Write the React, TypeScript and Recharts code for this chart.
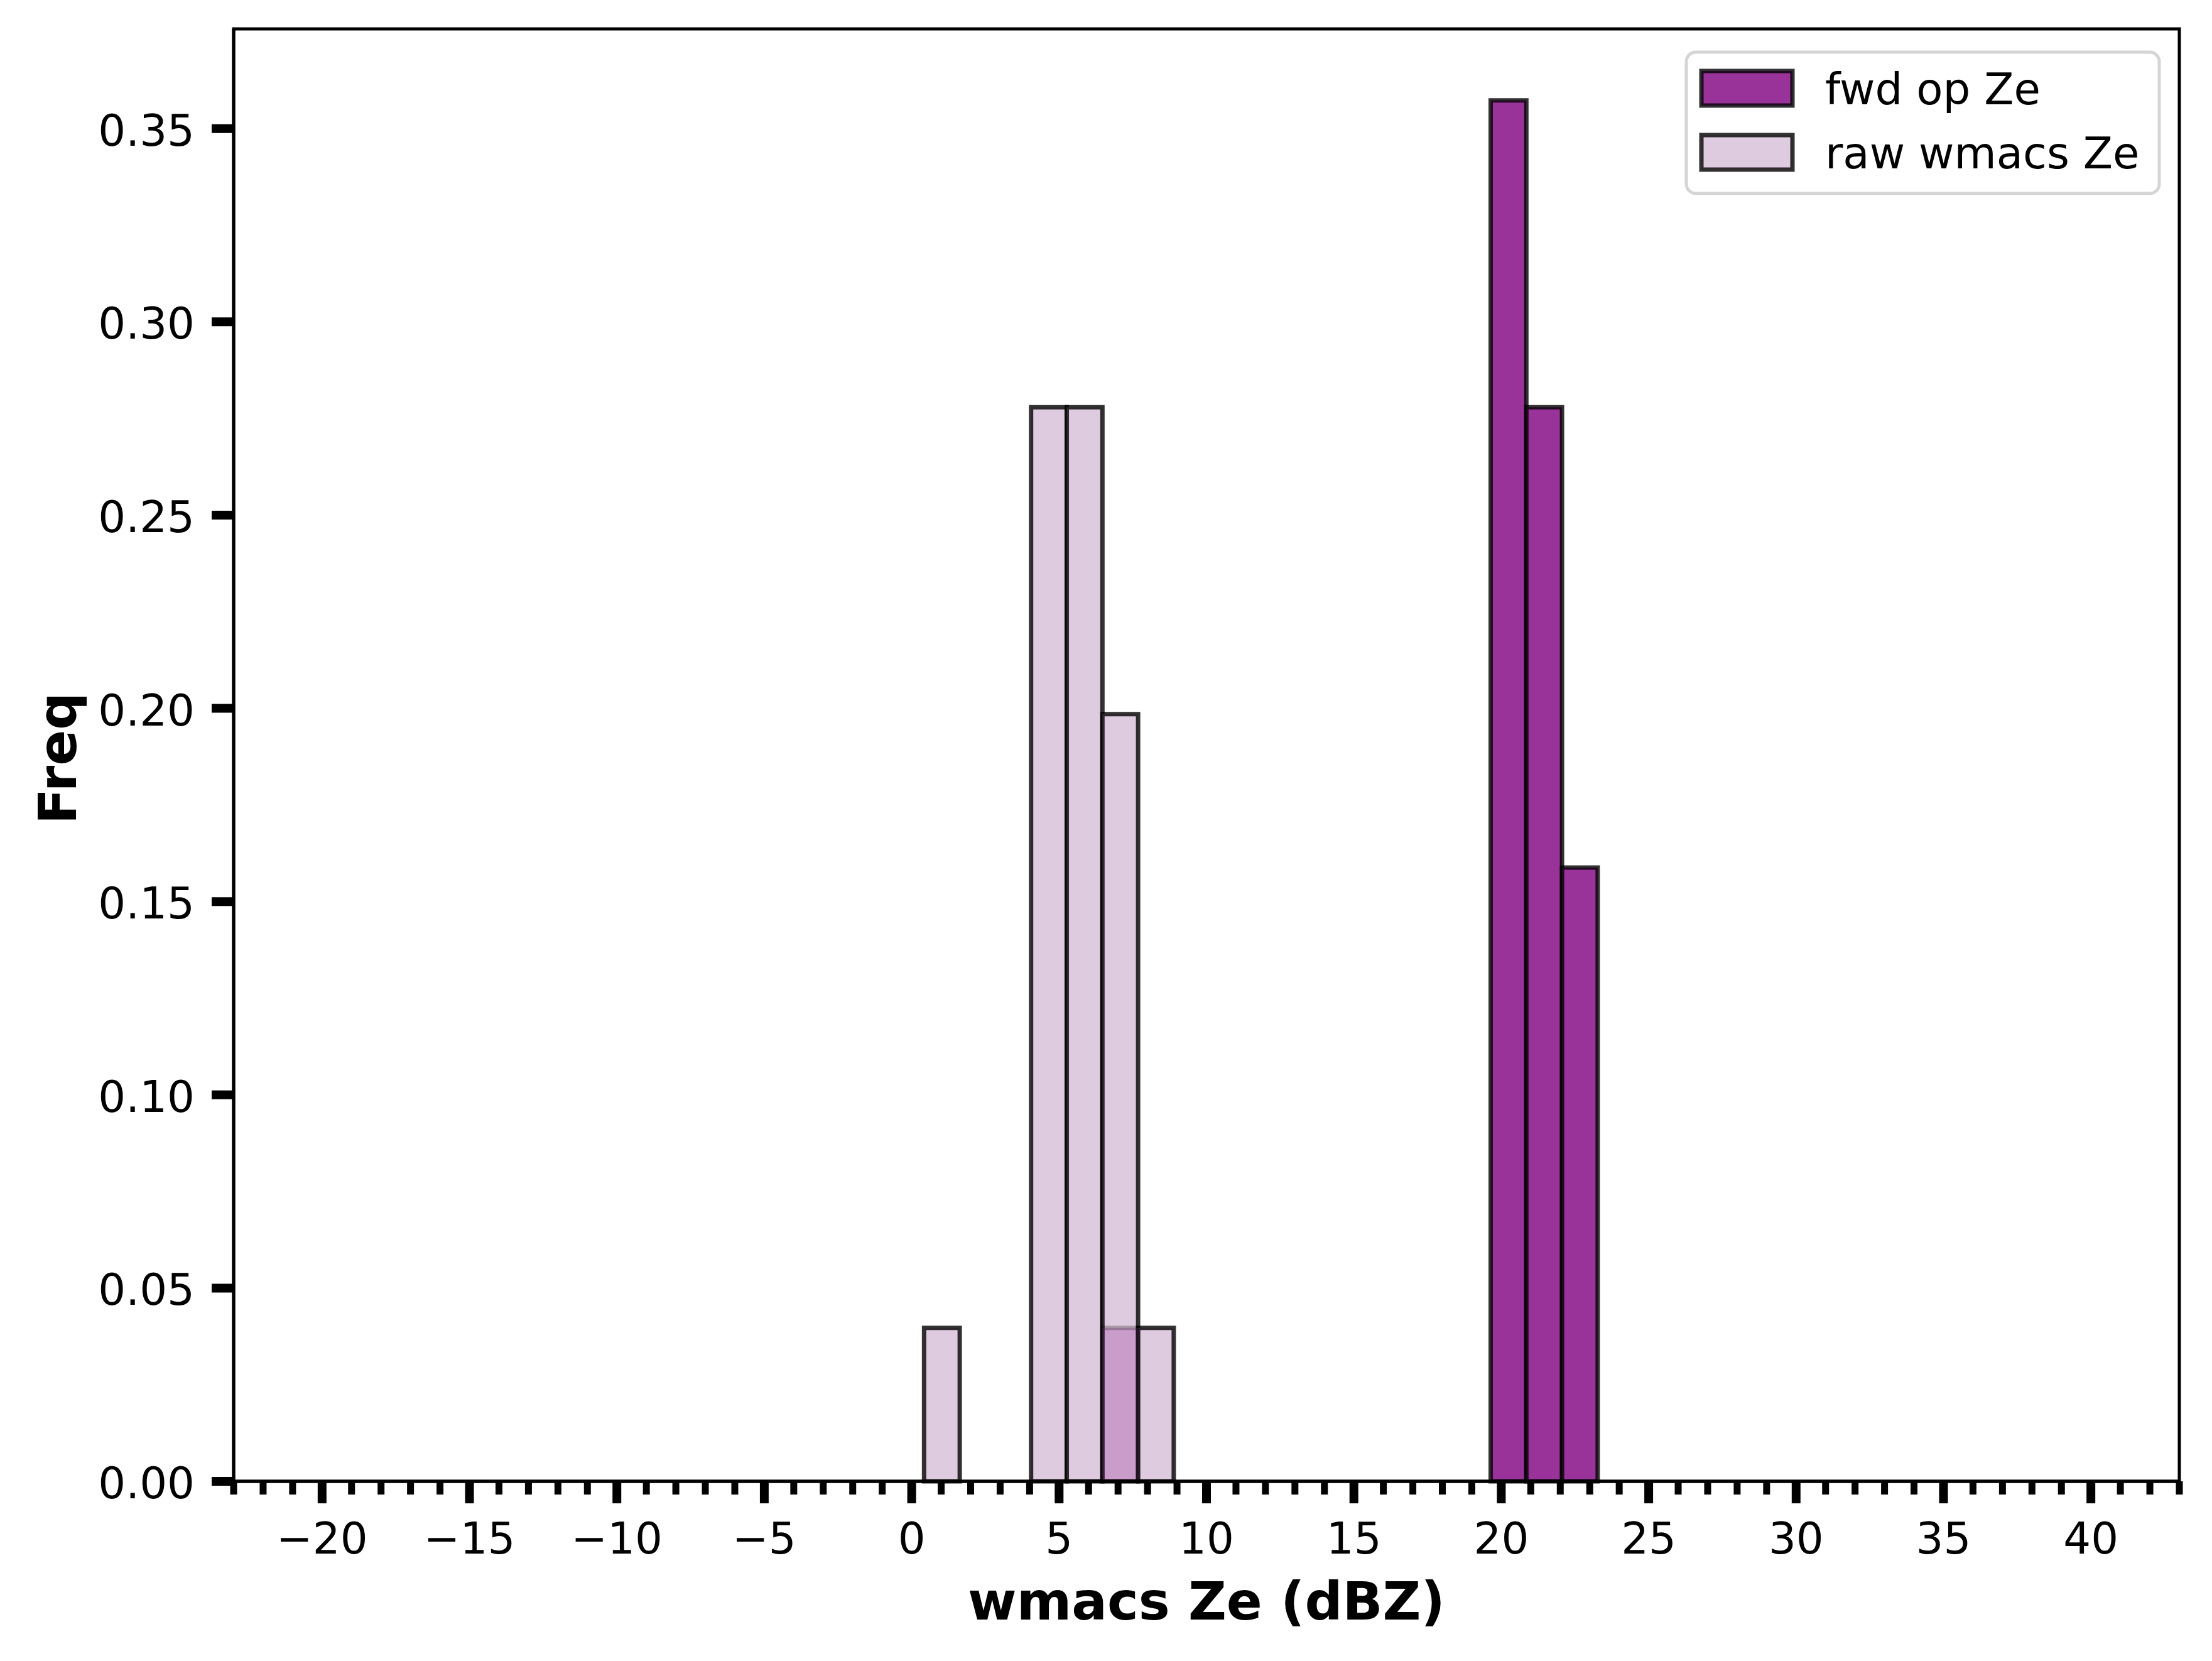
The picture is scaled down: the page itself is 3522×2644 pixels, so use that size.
import React from 'react';
import { ComposedChart, XAxis, YAxis, ReferenceArea, Line } from 'recharts';

// ---- data ----
const seriesNames = ['fwd op Ze', 'raw wmacs Ze'];
const fwdBinEdges = [19.64, 20.85, 22.06, 23.27];
const fwdFreq = [0.3573, 0.2779, 0.1588];
const rawBinEdges = [0.42, 1.63, 2.84, 4.05, 5.26, 6.47, 7.68, 8.89];
const rawFreq = [0.0397, 0, 0, 0.2779, 0.2779, 0.1985, 0.0397];
const overlapBinEdges = [6.47, 7.68];
const overlapFreq = [0.0397];
const xTicks = Array.from({ length: 67 }, (_, i) => i - 23);
const yTicks = [0, 0.05, 0.1, 0.15, 0.2, 0.25, 0.3, 0.35];
const X_DOMAIN: [number, number] = [-23, 43];
const Y_DOMAIN: [number, number] = [0, 0.3758];

const FWD_FILL = '#993399';
const RAW_FILL = '#dfcbdf';
const EDGE = 'rgba(0,0,0,0.8)';
const FONT = 'DejaVu Sans';

const toBins = (edges: number[], freq: number[]) =>
  freq.map((f, i) => ({ x0: edges[i], x1: edges[i + 1], f })).filter((b) => b.f > 0);

const fwdBins = toBins(fwdBinEdges, fwdFreq);
const rawBins = toBins(rawBinEdges, rawFreq);
const overlapBins = toBins(overlapBinEdges, overlapFreq);

const hiddenData = fwdBins.map((b) => ({ x: (b.x0 + b.x1) / 2, y: b.f }));

const fmtX = (v: number) => (v < 0 ? '\u2212' + Math.abs(v) : String(v));

const XTick = (props: any) => {
  const { x, y, payload } = props;
  const v = payload.value;
  const major = Math.round(v) % 5 === 0;
  return (
    <g>
      <line x1={x} x2={x} y1={y} y2={y + (major ? 35 : 21)} stroke="#000" strokeWidth={major ? 14 : 11} />
      {major && (
        <text x={x} y={y + 115} textAnchor="middle" fontSize={69} fontFamily={FONT} fill="#000">
          {fmtX(v)}
        </text>
      )}
    </g>
  );
};

const YTick = (props: any) => {
  const { x, y, payload } = props;
  return (
    <g>
      <line x1={x - 35} x2={x} y1={y} y2={y} stroke="#000" strokeWidth={14} />
      <text x={x - 62} y={y + 27} textAnchor="end" fontSize={69} fontFamily={FONT} fill="#000">
        {Number(payload.value).toFixed(2)}
      </text>
    </g>
  );
};

const XLabel = (props: any) => {
  const vb = props.viewBox || {};
  return (
    <text x={vb.x + vb.width / 2} y={vb.y + 220} textAnchor="middle" fontSize={84} fontWeight="bold" fontFamily={FONT} fill="#000">
      wmacs Ze (dBZ)
    </text>
  );
};

const YLabel = (props: any) => {
  const vb = props.viewBox || {};
  const cx = 121;
  const cy = vb.y + vb.height / 2 + 5;
  return (
    <text x={cx} y={cy} transform={`rotate(-90, ${cx}, ${cy})`} textAnchor="middle" fontSize={84} fontWeight="bold" fontFamily={FONT} fill="#000">
      Freq
    </text>
  );
};

export default function App() {
  return (
    <div style={{ position: 'absolute', left: 0, top: 0, width: 3522, height: 2644, background: '#fff' }}>
      <ComposedChart
        width={3522}
        height={2644}
        data={hiddenData}
        margin={{ top: 46, right: 52, bottom: 0, left: 0 }}
        style={{ fontFamily: FONT }}
      >
        <XAxis
          dataKey="x"
          type="number"
          domain={X_DOMAIN}
          ticks={xTicks}
          interval={0}
          allowDataOverflow
          height={286}
          tickSize={0}
          tickMargin={0}
          tickLine={false}
          tick={<XTick />}
          axisLine={{ stroke: '#000', strokeWidth: 5 }}
          label={<XLabel />}
        />
        <YAxis
          type="number"
          domain={Y_DOMAIN}
          ticks={yTicks}
          interval={0}
          allowDataOverflow
          width={372}
          tickSize={0}
          tickMargin={0}
          tickLine={false}
          tick={<YTick />}
          axisLine={{ stroke: '#000', strokeWidth: 5 }}
          label={<YLabel />}
        />
        <Line dataKey="y" stroke="none" dot={false} activeDot={false} isAnimationActive={false} legendType="none" />
        {rawBins.map((b, i) => (
          <ReferenceArea key={'raw' + i} x1={b.x0} x2={b.x1} y1={0} y2={b.f} fill={RAW_FILL} fillOpacity={1} stroke={EDGE} strokeWidth={7} />
        ))}
        {overlapBins.map((b, i) => (
          <ReferenceArea key={'ov' + i} x1={b.x0} x2={b.x1} y1={0} y2={b.f} fill={FWD_FILL} fillOpacity={0.3} stroke={EDGE} strokeOpacity={0.3} strokeWidth={7} />
        ))}
        {fwdBins.map((b, i) => (
          <ReferenceArea key={'fwd' + i} x1={b.x0} x2={b.x1} y1={0} y2={b.f} fill={FWD_FILL} fillOpacity={1} stroke={EDGE} strokeWidth={7} />
        ))}
        <ReferenceArea
          x1={X_DOMAIN[0]}
          x2={X_DOMAIN[1]}
          y1={Y_DOMAIN[0]}
          y2={Y_DOMAIN[1]}
          fill="none"
          fillOpacity={0}
          stroke="#000"
          strokeWidth={5}
          ifOverflow="visible"
        />
      </ComposedChart>
      <svg width={3522} height={2644} style={{ position: 'absolute', left: 0, top: 0, pointerEvents: 'none' }}>
        <rect x={2685} y={83} width={753} height={225} rx={15} ry={15} fill="rgba(255,255,255,0.8)" stroke="#d5d5d5" strokeWidth={5} />
        {seriesNames.map((name, i) => (
          <g key={name}>
            <rect x={2709} y={113 + i * 102} width={145} height={55} fill={i === 0 ? FWD_FILL : RAW_FILL} stroke={EDGE} strokeWidth={7} />
            <text x={2906} y={166 + i * 102} fontSize={69} fontFamily={FONT} fill="#000">
              {name}
            </text>
          </g>
        ))}
      </svg>
    </div>
  );
}
